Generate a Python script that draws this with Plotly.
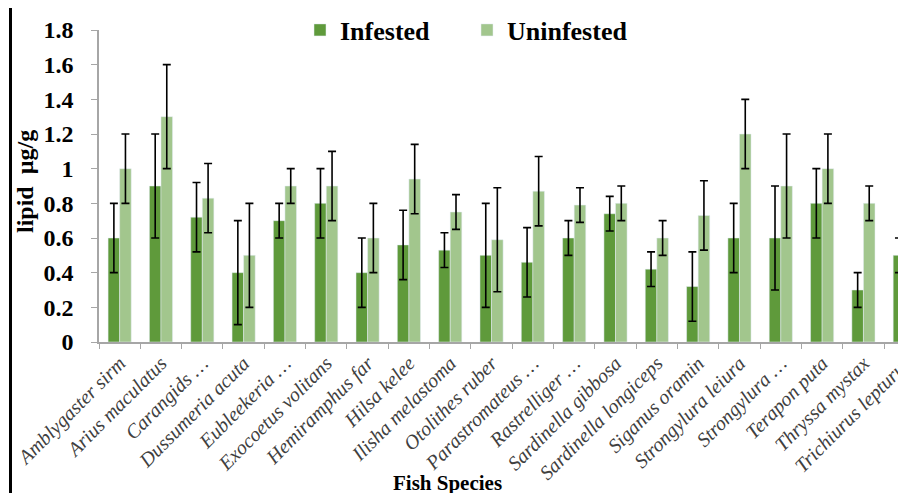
import plotly.graph_objects as go

species = ["Amblygaster sirm", "Arius maculatus", "Carangids …", "Dussumeria acuta",
           "Eubleekeria …", "Exocoetus volitans", "Hemiramphus far", "Hilsa kelee",
           "Ilisha melastoma", "Otolithes ruber", "Parastromateus …", "Rastrelliger …",
           "Sardinella gibbosa", "Sardinella longiceps", "Siganus oramin",
           "Strongylura leiura", "Strongylura …", "Terapon puta", "Thryssa mystax",
           "Trichiurus lepturus"]

infested = [0.60, 0.90, 0.72, 0.40, 0.70, 0.80, 0.40, 0.56, 0.53, 0.50,
            0.46, 0.60, 0.74, 0.42, 0.32, 0.60, 0.60, 0.80, 0.30, 0.50]
infested_err = [0.2, 0.3, 0.2, 0.3, 0.1, 0.2, 0.2, 0.2, 0.1, 0.3,
                0.2, 0.1, 0.1, 0.1, 0.2, 0.2, 0.3, 0.2, 0.1, 0.1]

uninfested = [1.00, 1.30, 0.83, 0.50, 0.90, 0.90, 0.60, 0.94, 0.75, 0.59,
              0.87, 0.79, 0.80, 0.60, 0.73, 1.20, 0.90, 1.00, 0.80, 0.80]
uninfested_err = [0.2, 0.3, 0.2, 0.3, 0.1, 0.2, 0.2, 0.2, 0.1, 0.3,
                  0.2, 0.1, 0.1, 0.1, 0.2, 0.2, 0.3, 0.2, 0.1, 0.1]

y_ticks = [0, 0.2, 0.4, 0.6, 0.8, 1, 1.2, 1.4, 1.6, 1.8]

DARK = "#5f9a3b"
LIGHT = "#a2c68d"
SERIF = "Liberation Serif, Times New Roman, serif"

fig = go.Figure()
fig.add_trace(go.Bar(
    name="Infested", x=species, y=infested, marker_color=DARK,
    error_y=dict(type="data", array=infested_err, visible=True,
                 color="black", thickness=1.6, width=4),
))
fig.add_trace(go.Bar(
    name="Uninfested", x=species, y=uninfested, marker_color=LIGHT,
    error_y=dict(type="data", array=uninfested_err, visible=True,
                 color="black", thickness=1.6, width=4),
))

fig.update_layout(
    width=906, height=493,
    margin=dict(l=91, r=8, t=22, b=159, autoexpand=False),
    paper_bgcolor="white", plot_bgcolor="white",
    barmode="group", bargap=0.44, bargroupgap=0,
    showlegend=True,
    legend=dict(orientation="h", x=(300 - 99) / 807, xanchor="left", y=1.0, yanchor="middle",
                font=dict(family=SERIF, size=26, color="black", weight="bold"),
                itemwidth=30, entrywidth=122, bgcolor="rgba(0,0,0,0)"),
    xaxis=dict(
        range=[-0.5, 19.03], tickson="boundaries", ticks="outside", ticklen=5,
        tickcolor="#a6a6a6", showline=True, linecolor="#a6a6a6", linewidth=1.5,
        tickangle=-45, automargin=False, showgrid=False,
        tickfont=dict(family=SERIF, size=20, color="#404040", style="italic"),
    ),
    yaxis=dict(
        range=[0, 1.8], tickvals=y_ticks, ticks="outside", ticklen=6,
        tickcolor="#a6a6a6", showline=True, linecolor="#a6a6a6", linewidth=1.5,
        showgrid=False, zeroline=False, automargin=False, ticklabelstandoff=13,
        tickfont=dict(family=SERIF, size=24, color="black", weight="bold"),
    ),
    annotations=[
        dict(text="<b>Fish Species</b>", xref="paper", yref="paper",
             x=(447 - 99) / 807, y=(342 - 483) / 312, xanchor="center", yanchor="middle",
             showarrow=False, font=dict(family=SERIF, size=21, color="black")),
        dict(text="<b>lipid  µg/g</b>", xref="paper", yref="paper", textangle=-90,
             x=(25 - 99) / 807, y=(342 - 182) / 312, xanchor="center", yanchor="middle",
             showarrow=False, font=dict(family=SERIF, size=24, color="black")),
    ],
    shapes=[
        dict(type="rect", xref="paper", yref="paper",
             x0=(10.5 - 99) / 807, x1=1.2, y0=-0.7, y1=(342 - 6) / 312,
             line=dict(color="black", width=3), fillcolor="rgba(0,0,0,0)", layer="above"),
    ],
)

fig.write_html("out.html")
